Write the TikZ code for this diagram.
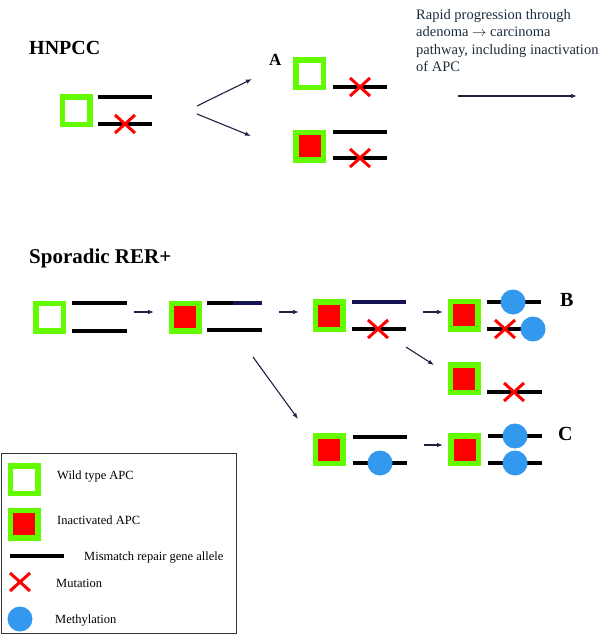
\documentclass[tikz,border=0pt]{standalone}
\usepackage{fontspec}
\setmainfont{Liberation Serif}
\usetikzlibrary{arrows.meta}
\definecolor{apcgreen}{RGB}{100,250,0}
\definecolor{apcred}{RGB}{255,0,0}
\definecolor{methblue}{RGB}{51,153,238}
\definecolor{arrnavy}{RGB}{28,34,64}
\definecolor{alnavy}{RGB}{20,20,80}
\definecolor{paratext}{RGB}{30,45,60}
\tikzset{
  wtbox/.style={rectangle, draw=apcgreen, line width=5.5pt, fill=white, minimum size=27.5pt, inner sep=0pt},
  inbox/.style={wtbox, fill=apcred},
  allele/.style={line width=4.5pt, black},
  meth/.style={circle, fill=methblue, minimum size=25pt, inner sep=0pt},
  arr/.style={arrnavy, line width=1.1pt, -{Latex[length=6pt,width=4.5pt]}},
  heading/.style={font=\bfseries\fontsize{20}{24}\selectfont, anchor=base west, inner sep=0pt},
  legtext/.style={font=\fontsize{12.5}{15}\selectfont, anchor=base west, inner sep=0pt},
  pics/mut/.style={code={
    \draw[apcred, line width=3pt] (-10,-9) -- (10,9) (-10,9) -- (10,-9);
  }}
}
\begin{document}
\begin{tikzpicture}[x=1pt,y=-1pt]
\useasboundingbox (0,0) rectangle (601,639);

% ---------- HNPCC ----------
\node[heading] (hnpcc) at (29,55) {HNPCC};
\node[wtbox] (h0) at (76,111) {};
\draw[allele] (98,97) -- (152,97);
\draw[allele] (98,124) -- (152,124);
\pic at (125,124) {mut};

\coordinate (hs1) at (197,106); \coordinate (he1) at (252,79);
\coordinate (hs2) at (197,114); \coordinate (he2) at (251,136);
\draw[arr] (hs1) -- (he1);
\draw[arr] (hs2) -- (he2);

\node[heading, font=\bfseries\fontsize{17}{20}\selectfont] (labA) at (269,66) {A};

\node[wtbox] (ha) at (309.5,74) {};
\draw[allele] (333,87) -- (387,87);
\pic at (360,87) {mut};

\node[inbox] (hb) at (309.5,146.5) {};
\draw[allele] (333,132) -- (387,132);
\draw[allele] (333,158) -- (387,158);
\pic at (360,158) {mut};

\node[anchor=north west, inner sep=0pt, align=left, text=paratext,
      font=\fontsize{14.5}{17.6}\selectfont] (para) at (416,8.8)
  {Rapid progression through\\adenoma $\rightarrow$ carcinoma\\pathway, including inactivation\\of APC};
\coordinate (ps) at (458,96); \coordinate (pe) at (577,96);
\draw[arr] (ps) -- (pe);

% ---------- Sporadic RER+ ----------
\node[heading, font=\bfseries\fontsize{21}{25}\selectfont] (spor) at (29,263) {Sporadic RER+};

\node[wtbox] (s1) at (49.5,317) {};
\draw[allele] (72,303) -- (127,303);
\draw[allele] (72,331) -- (127,331);

\node[inbox] (s2) at (185,317) {};
\draw[allele] (207,303) -- (233,303);
\draw[allele, alnavy] (233,303) -- (262,303);
\draw[allele] (207,330) -- (262,330);

\node[inbox] (s3) at (329,315.5) {};
\draw[allele, alnavy] (352,302) -- (406,302);
\draw[allele] (352,329) -- (406,329);
\pic at (378,329) {mut};

\node[inbox] (s4) at (464,315) {};
\draw[allele] (487,302) -- (541,302);
\draw[allele] (487,329) -- (541,329);
\node[meth] (m41) at (513,302) {};
\pic at (505,329) {mut};
\node[meth] (m42) at (533,329) {};
\node[heading] (labB) at (560,306) {B};

\node[inbox] (s5) at (464,378.5) {};
\draw[allele] (487,392) -- (542,392);
\pic at (514,392) {mut};

\node[inbox] (s6) at (329,449.5) {};
\draw[allele] (353,437) -- (407,437);
\draw[allele] (353,463) -- (407,463);
\node[meth] (m61) at (380,463) {};

\node[inbox] (s7) at (464.5,449.5) {};
\draw[allele] (488,436) -- (542,436);
\draw[allele] (488,463) -- (542,463);
\node[meth] (m71) at (515,436) {};
\node[meth] (m72) at (515,463) {};
\node[heading] (labC) at (558,440) {C};

% arrows
\coordinate (a1s) at (134,312); \coordinate (a1e) at (154,312);
\coordinate (a2s) at (279,312); \coordinate (a2e) at (299,312);
\coordinate (a3s) at (423,312); \coordinate (a3e) at (443,312);
\coordinate (a4s) at (406,347); \coordinate (a4e) at (434,365);
\coordinate (a5s) at (253,357); \coordinate (a5e) at (298,419);
\coordinate (a6s) at (424,445); \coordinate (a6e) at (443,445);
\draw[arr] (a1s) -- (a1e);
\draw[arr] (a2s) -- (a2e);
\draw[arr] (a3s) -- (a3e);
\draw[arr] (a4s) -- (a4e);
\draw[arr] (a5s) -- (a5e);
\draw[arr] (a6s) -- (a6e);

% ---------- Legend ----------
\node[draw=black!80, line width=1.2pt, rectangle, minimum width=235pt, minimum height=180pt,
      inner sep=0pt, anchor=north west] (legend) at (1,453) {};
\node[wtbox] (lg1) at (24,479.5) {};
\node[legtext] (lt1) at (57,479) {Wild type APC};
\node[inbox] (lg2) at (24,524) {};
\node[legtext] (lt2) at (57,524) {Inactivated APC};
\draw[allele] (10,556) -- (64,556);
\node[legtext] (lt3) at (84,560) {Mismatch repair gene allele};
\pic at (20,582) {mut};
\node[legtext] (lt4) at (56,587) {Mutation};
\node[meth] (lg5) at (20,619) {};
\node[legtext] (lt5) at (55,623) {Methylation};
\end{tikzpicture}
\end{document}
